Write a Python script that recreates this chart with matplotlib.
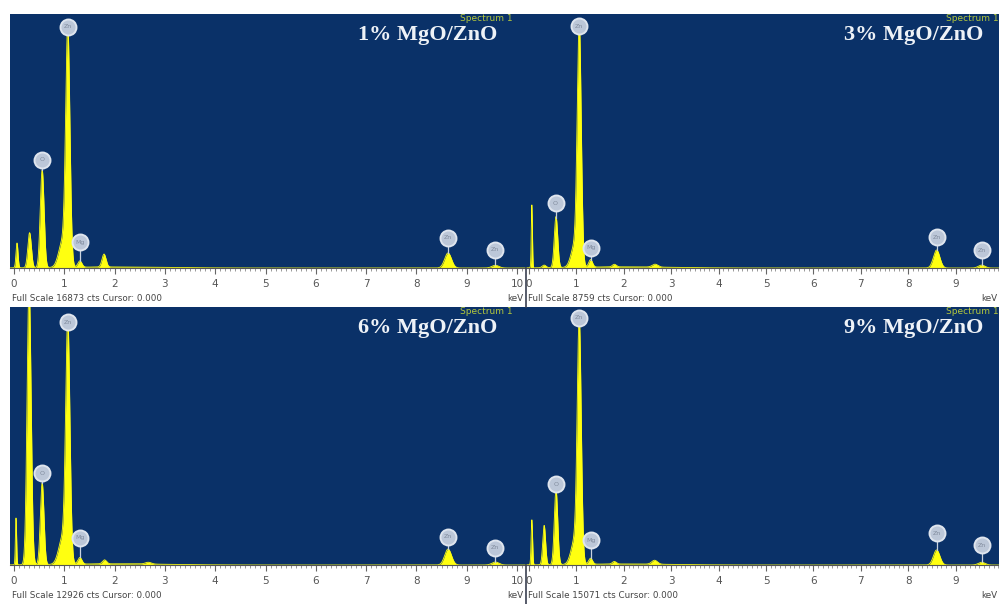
import numpy as np
import matplotlib
matplotlib.use('Agg')
import matplotlib.pyplot as plt
from matplotlib.ticker import MultipleLocator

# ---------------- data ----------------
titles = ['1% MgO/ZnO', '3% MgO/ZnO', '6% MgO/ZnO', '9% MgO/ZnO']
full_scale = [16873, 8759, 12926, 15071]

# peak centre (keV), peak height (counts), peak sigma (keV)
p1_energy = [0.06, 0.31, 0.56, 0.97, 1.07, 1.31, 1.79, 2.0, 8.63, 9.57]
p1_counts = [1650, 2330, 6500, 1750, 15300, 420, 860, 70, 1000, 180]
p1_sigma = [0.02, 0.035, 0.038, 0.08, 0.042, 0.04, 0.04, 1.0, 0.068, 0.07]

p2_energy = [0.06, 0.32, 0.57, 0.97, 1.06, 1.30, 1.80, 2.0, 2.66, 8.60, 9.55]
p2_counts = [2170, 90, 1760, 800, 8100, 260, 90, 40, 100, 620, 100]
p2_sigma = [0.012, 0.04, 0.036, 0.08, 0.042, 0.04, 0.04, 1.0, 0.06, 0.068, 0.07]

p3_energy = [0.04, 0.30, 0.56, 0.97, 1.07, 1.31, 1.80, 2.0, 2.67, 8.63, 9.57]
p3_counts = [2350, 14000, 4100, 1350, 11700, 330, 200, 60, 90, 800, 150]
p3_sigma = [0.012, 0.04, 0.036, 0.08, 0.042, 0.04, 0.04, 1.0, 0.06, 0.068, 0.07]

p4_energy = [0.06, 0.32, 0.57, 0.97, 1.06, 1.30, 1.80, 2.0, 2.65, 8.60, 9.55]
p4_counts = [2630, 2300, 4380, 1460, 13700, 350, 150, 60, 230, 880, 160]
p4_sigma = [0.015, 0.03, 0.036, 0.08, 0.042, 0.04, 0.04, 1.0, 0.06, 0.068, 0.07]

# element marker labels: energy (keV), symbol, marker height (counts)
lab_energy = [[0.56, 1.07, 1.31, 8.63, 9.57],
              [0.56, 1.06, 1.30, 8.60, 9.55],
              [0.56, 1.07, 1.31, 8.63, 9.57],
              [0.57, 1.06, 1.30, 8.60, 9.55]]
lab_symbol = ['O', 'Zn', 'Mg', 'Zn', 'Zn']
lab_counts = [[7175, 16010, 1727, 1993, 1196],
              [2241, 8345, 690, 1069, 620],
              [4609, 12174, 1353, 1403, 852],
              [4731, 14430, 1460, 1869, 1168]]

left_ticks = list(range(0, 11))
right_ticks = list(range(0, 10))

peaks = [(p1_energy, p1_counts, p1_sigma), (p2_energy, p2_counts, p2_sigma),
         (p3_energy, p3_counts, p3_sigma), (p4_energy, p4_counts, p4_sigma)]

# ---------------- figure ----------------
W, H = 999, 604
fig = plt.figure(figsize=(W / 100, H / 100), dpi=100)
fig.patch.set_facecolor('white')

BLUE = '#0a3168'
YELLOW = '#ffff10'


def rect(x0, y0, x1, y1):
    return [x0 / W, 1 - y1 / H, (x1 - x0) / W, (y1 - y0) / H]


# panel pixel boxes (blue area) and x-mapping (px of 0 keV, px per keV)
boxes = [(10, 14, 525.5, 268), (525.5, 14, 999, 268),
         (10, 307, 525.5, 565), (525.5, 307, 999, 565)]
zero_px = [14, 529, 14, 529]
px_per_kev = [50.3, 47.4, 50.3, 47.4]

e = np.linspace(-0.3, 10.3, 6000)

for i in range(4):
    x0, y0, x1, y1 = boxes[i]
    ax = fig.add_axes(rect(x0, y0, x1, y1))
    ax.set_facecolor(BLUE)
    xl = ((x0 - zero_px[i]) / px_per_kev[i], (x1 - zero_px[i]) / px_per_kev[i])
    ax.set_xlim(*xl)
    ax.set_ylim(0, full_scale[i])

    en, ct, sg = peaks[i]
    spec = np.zeros_like(e)
    for E0, h, s in zip(en, ct, sg):
        spec += h * np.exp(-0.5 * ((e - E0) / s) ** 2)
    ax.fill_between(e, 0, spec, color=YELLOW, lw=0, zorder=2)
    ax.plot(e, spec, color=YELLOW, lw=0.6, zorder=2)

    # element markers
    for E0, sym, yc in zip(lab_energy[i], lab_symbol, lab_counts[i]):
        top = np.interp(E0, e, spec)
        ax.plot([E0, E0], [top, yc], color='#c9d2de', lw=0.9, zorder=3)
        ax.plot([E0], [yc], 'o', ms=11.5, mfc='#bcc7d8', mec='#dfe5ee',
                mew=1.4, zorder=4)
        ax.text(E0, yc, sym, fontsize=4.5, color='#7f8a9c', ha='center',
                va='center', zorder=5)

    ticks = left_ticks if i % 2 == 0 else right_ticks
    ax.set_xticks(ticks)
    ax.set_xticklabels([str(t) for t in ticks])
    ax.xaxis.set_minor_locator(MultipleLocator(0.1))
    ax.tick_params(axis='x', which='major', direction='out', length=4,
                   width=0.8, color='#666666', labelsize=7.5,
                   labelcolor='#555555', pad=4)
    ax.tick_params(axis='x', which='minor', direction='out', length=2,
                   width=0.6, color='#888888')
    ax.set_yticks([])
    for sp in ['top', 'left', 'right']:
        ax.spines[sp].set_visible(False)
    ax.spines['bottom'].set_color('#555555')
    ax.spines['bottom'].set_linewidth(0.8)

    # "Spectrum 1" label and title
    tx_right = 497 if i % 2 == 0 else 983
    fig.text((tx_right - 37) / W, 1 - (y0 + 7) / H, 'Spectrum 1',
             fontsize=6.5, color='#b4c83c', ha='left', va='baseline')
    fig.text(tx_right / W, 1 - (y0 + 26) / H, titles[i],
             fontsize=16, color='#eef2f7', ha='right', va='baseline',
             family='Liberation Serif', weight='bold')

    # full scale text / keV
    fy = y1 + 31
    fig.text((x0 + 2) / W, 1 - fy / H,
             'Full Scale %d cts Cursor: 0.000' % full_scale[i],
             fontsize=6.3, color='#444444', ha='left', va='center')
    kx = 523 if i % 2 == 0 else 997
    fig.text(kx / W, 1 - fy / H, 'keV', fontsize=6.3, color='#444444',
             ha='right', va='center')

# separator lines in the white strips
for ya, yb in [(268, 307), (565, 604)]:
    fig.add_artist(plt.Line2D([525.5 / W, 525.5 / W], [1 - ya / H, 1 - yb / H],
                              color='#3a4050', lw=1.2))

fig.savefig('out.png', dpi=100, facecolor='white')
